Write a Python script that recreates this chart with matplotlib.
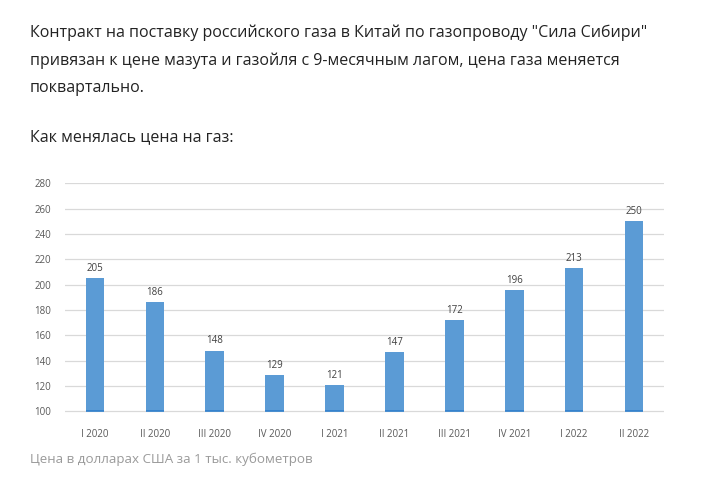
import matplotlib
matplotlib.use("Agg")
import matplotlib.pyplot as plt
import numpy as np

plt.rcParams['font.family'] = ['Open Sans', 'DejaVu Sans']

# quarters and gas price, USD per 1000 m3
quarters = ["I 2020", "II 2020", "III 2020", "IV 2020", "I 2021",
            "II 2021", "III 2021", "IV 2021", "I 2022", "II 2022"]
prices = [205, 186, 148, 129, 121, 147, 172, 196, 213, 250]
yticks = [100, 120, 140, 160, 180, 200, 220, 240, 260, 280]

W, H = 705, 482
fig = plt.figure(figsize=(W / 100, H / 100), dpi=100)
fig.patch.set_facecolor("white")

# header text
intro = ['Контракт на поставку российского газа в Китай по газопроводу "Сила Сибири"',
         'привязан к цене мазута и газойля с 9-месячным лагом, цена газа меняется',
         'поквартально.']
for i, line in enumerate(intro):
    fig.text(30 / W, 1 - (33 + 27.5 * i) / H, line, fontsize=11.55,
             color="#222222", va="center", ha="left")
fig.text(30 / W, 1 - 137 / H, "Как менялась цена на газ:", fontsize=11.55,
         color="#222222", va="center", ha="left")

# chart area
left, right, top, bottom = 65, 664, 182.5, 412.5
ax = fig.add_axes([left / W, 1 - bottom / H, (right - left) / W, (bottom - top) / H])

x = np.arange(len(quarters))
bars = ax.bar(x, [p - 100 for p in prices], bottom=100, width=0.31,
              color="#5B9BD5", zorder=3)
for xi, p in zip(x, prices):
    ax.plot([xi - 0.155, xi + 0.155], [100.4, 100.4], color="#2F7FCC",
            lw=1.2, zorder=4, solid_capstyle="butt")
    ax.annotate(str(p), (xi, p), xytext=(0, 3), textcoords="offset points",
                ha="center", va="bottom", fontsize=7, color="#404040")

ax.set_xlim(-0.5, len(quarters) - 0.5)
ax.set_ylim(99.2, 280.6)
ax.set_yticks(yticks)
ax.set_yticklabels([str(t) for t in yticks])
ax.set_xticks(x)
ax.set_xticklabels(quarters)
ax.tick_params(axis="both", length=0, labelsize=7, colors="#595959")
ax.tick_params(axis="y", pad=10)
ax.tick_params(axis="x", pad=12)
ax.grid(axis="y", color="#D9D9D9", lw=0.9, zorder=0)
for s in ax.spines.values():
    s.set_visible(False)

fig.text(30 / W, 1 - 459 / H, "Цена в долларах США за 1 тыс. кубометров",
         fontsize=9.6, color="#9A9A9A", va="center", ha="left")

fig.savefig("out.png", dpi=100)
